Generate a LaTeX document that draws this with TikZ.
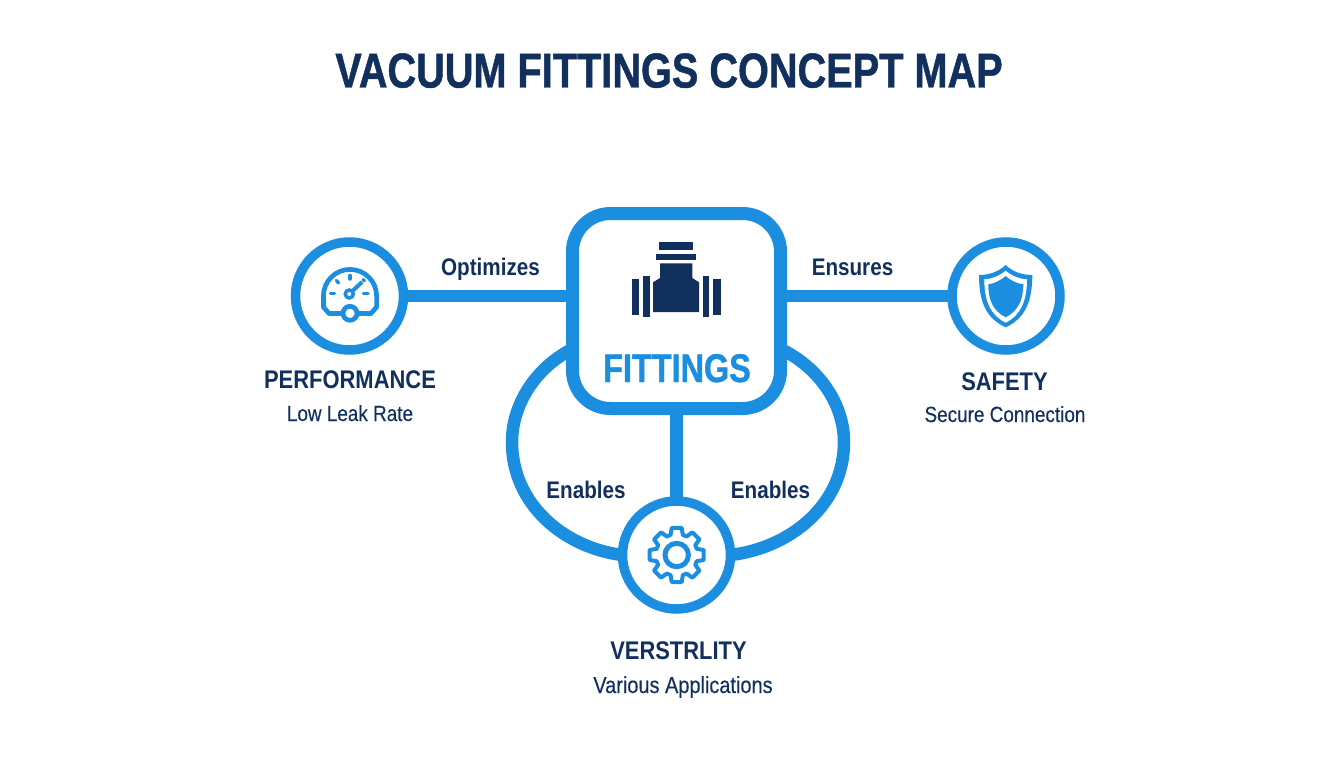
\documentclass[tikz,border=0pt]{standalone}
\usepackage{fontspec}
\usetikzlibrary{positioning}
\setmainfont{Liberation Sans}
\newfontfamily\narrowfont[FakeStretch=0.86]{Liberation Sans}
\newfontfamily\capfont[FakeStretch=0.86,FakeBold=0.3]{Liberation Sans}
\newfontfamily\titlefont[FakeStretch=0.81,BoldFeatures={FakeBold=1}]{Liberation Sans}
\definecolor{mapblue}{HTML}{1B8EE0}
\definecolor{mapnavy}{HTML}{12305E}
\tikzset{
  ring/.style={circle,draw=mapblue,fill=white,line width=9.5pt,minimum size=108pt,outer sep=0pt},
  link/.style={draw=mapblue,line width=12.5pt},
  heading/.style={anchor=base,inner sep=0pt,text=mapnavy,font=\narrowfont\bfseries\fontsize{25.5}{30}\selectfont},
  caption/.style={anchor=base,inner sep=0pt,text=mapnavy,font=\capfont\fontsize{22}{26}\selectfont},
  verb/.style={anchor=base,inner sep=0pt,text=mapnavy,font=\narrowfont\bfseries\fontsize{24}{28}\selectfont},
  icon/.style={draw=mapblue,line width=4.7pt,fill=none},
  tick/.style={draw=mapblue,line width=3.5pt,line cap=round},
  fitpart/.style={fill=mapnavy}
}
\begin{document}
\begin{tikzpicture}[x=1pt,y=-1pt]
\useasboundingbox (0,0) rectangle (1344,768);
\node[anchor=base,inner sep=0pt,text=mapnavy,font=\titlefont\bfseries\fontsize{49}{54}\selectfont] (title) at (669,87.5) {VACUUM FITTINGS CONCEPT MAP};

\node[rectangle,rounded corners=38pt,draw=mapblue,fill=white,line width=13pt,minimum width=208pt,minimum height=195pt,outer sep=0pt] (fit) at (676.5,311) {};
\node[ring] (perf) at (349.5,296) {};
\node[ring] (safe) at (1006,296) {};
\node[ring] (vers) at (676.5,555) {};

% connectors
\draw[link] (perf) -- (fit.west |- perf);
\draw[link] (safe) -- (fit.east |- safe);
\draw[link] (fit.south) -- (vers.north);
\draw[link] (fit.200) .. controls (535,368) and (512,405) .. (512,442) .. controls (512,505) and (565,548) .. (vers.180);
\draw[link] (fit.-20) .. controls (820,368) and (844,405) .. (844,442) .. controls (844,505) and (790,548) .. (vers.0);

% fitting icon
\fill[fitpart] (659,242.3) rectangle (692.7,250);
\fill[fitpart] (656,253.7) rectangle (695.7,260.3);
\fill[fitpart] (660,263.3) -- (692.3,263.3) -- (692.3,278) -- (699,282.3) -- (699,312) -- (653,312) -- (653,282.3) -- (660,278) -- cycle;
\fill[fitpart] (631.7,278.7) rectangle (639.3,315.3);
\fill[fitpart] (642.7,276.3) rectangle (649.7,317.3);
\fill[fitpart] (702.7,276.3) rectangle (709.3,317.3);
\fill[fitpart] (713.3,278.7) rectangle (720.7,315.3);
\node[anchor=base,inner sep=0pt,text=mapblue,font=\titlefont\bfseries\fontsize{40}{46}\selectfont] (fitlabel) at (677,382) {FITTINGS};

% gauge icon
\draw[icon,line join=round] (343,313.5) -- (329,313.5) -- (323.4,307) -- (323.4,296) arc[start angle=180,end angle=360,radius=26.6] -- (376.6,307) -- (371,313.5) -- (357,313.5);
\draw[icon,fill=white] (350,313.3) circle[radius=7];
\draw[draw=mapblue,line width=3.5pt] (349.3,294) circle[radius=4];
\draw[draw=mapblue,line width=4pt] (352.5,291) -- (362,282);
\draw[tick] (330.5,293.3) -- (334.5,293.3);
\draw[tick] (336.5,280.5) -- (338.5,283);
\draw[tick] (350,275.5) -- (350,279);
\draw[tick] (363.5,293.3) -- (368,293.3);
\draw[tick] (363,279.5) -- (364.5,281);

% shield icon
\fill[mapblue] (1005.7,265) .. controls (998,272) and (989,275) .. (979,275) .. controls (979,300) and (985,318) .. (1005.7,327.3) .. controls (1026,318) and (1032.3,300) .. (1032.3,275) .. controls (1022,275) and (1013,272) .. (1005.7,265) -- cycle;
\fill[white] (1005.7,270.7) .. controls (999,276) and (992,279) .. (984.3,279.3) .. controls (984.3,300) and (990,315) .. (1005.7,322.7) .. controls (1021,315) and (1027,300) .. (1027,279.3) .. controls (1019,279) and (1012,276) .. (1005.7,270.7) -- cycle;
\fill[mapblue] (1005.7,276) .. controls (1001,280) and (995,283.5) .. (988.3,284.3) .. controls (988.3,300) and (993,311) .. (1005.7,317.3) .. controls (1018,311) and (1023.3,300) .. (1023.3,284.3) .. controls (1016,283.5) and (1010,280) .. (1005.7,276) -- cycle;

% gear icon
\begin{scope}[shift={(676.7,555)}]
\draw[draw=mapblue,line width=4pt,line join=round] (-17:21) \foreach \a in {0,45,...,315} {-- (\a-17:21) -- (\a-10.5:27.5) -- (\a+10.5:27.5) -- (\a+17:21)} -- cycle;
\draw[draw=mapblue,line width=5pt] (0,0) circle[radius=11.7];
\end{scope}

% labels
\node[verb] (optlabel) at (490.5,275) {Optimizes};
\node[verb] (enslabel) at (852.5,275) {Ensures};
\node[verb] (enlabel) at (586,498) {Enables};
\node[verb] (enrlabel) at (770.5,498) {Enables};
\node[heading] (perfname) at (350,388.5) {PERFORMANCE};
\node[caption] (perftext) at (350,421) {Low Leak Rate};
\node[heading] (safename) at (1004.5,390) {SAFETY};
\node[caption] (safetext) at (1005,422) {Secure Connection};
\node[heading] (versname) at (678.5,659) {VERSTRLITY};
\node[caption,font=\capfont\fontsize{23.2}{26}\selectfont] (verstext) at (683,693) {Various Applications};
\end{tikzpicture}
\end{document}
